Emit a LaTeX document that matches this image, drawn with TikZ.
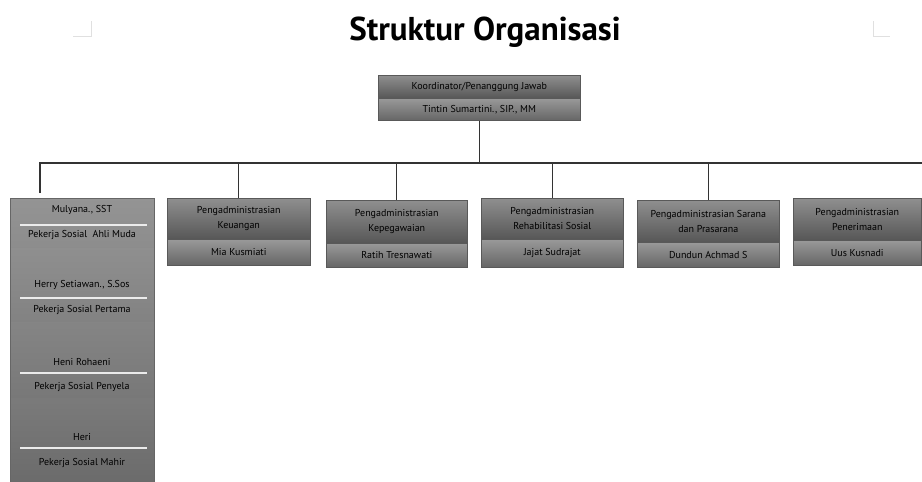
\documentclass[tikz,border=0pt]{standalone}
\usepackage{fontspec}
\setmainfont{PT Sans}
\begin{document}
\begin{tikzpicture}[x=1pt,y=-1pt,
  txt/.style={font=\fontsize{10}{12}\selectfont, text=black, align=center, inner sep=0pt},
  hdrcell/.style={draw=black!65, line width=0.6pt, top color=black!44, bottom color=black!66, anchor=north west, inner sep=0pt, txt},
  namecell/.style={draw=black!65, line width=0.6pt, top color=black!40, bottom color=black!60, anchor=north west, inner sep=0pt, txt},
  band/.style 2 args={top color=#1, bottom color=#2, draw=none, anchor=north west, inner sep=0pt},
  conn/.style={draw=black!80, line width=1.2pt},
  sep/.style={draw=white!92!black, line width=1.8pt},
  cornermark/.style={draw=black!12, line width=1pt}
]
\useasboundingbox (0,0) rectangle (922,482);
% corner marks
\coordinate (m1a) at (73,36); \coordinate (m1b) at (91,36); \coordinate (m1c) at (91,21);
\coordinate (m2a) at (890,36); \coordinate (m2b) at (873,36); \coordinate (m2c) at (873,21);
\draw[cornermark] (m1a) -- (m1b) -- (m1c);
\draw[cornermark] (m2a) -- (m2b) -- (m2c);
% title
\node[font=\bfseries\fontsize{33}{36}\selectfont, inner sep=0pt] (title) at (485,32) {Struktur Organisasi};
% top box
\node[hdrcell, minimum width=202, minimum height=23] (topA) at (378,75) {Koordinator/Penanggung Jawab};
\node[namecell, minimum width=202, minimum height=22] (topB) at (378,98) {Tintin Sumartini., SIP., MM};
% bus
\coordinate (busL) at (40,163);
\coordinate (busR) at (922,163);
\coordinate (leftEnd) at (40,193);
\draw[conn] (topB.south) -- (topB.south |- busL);
\draw[conn] (leftEnd) -- (busL) -- (busR);
% boxes
\node[hdrcell, minimum width=143, minimum height=41] (k1a) at (167,198) {Pengadministrasian\\[3pt]Keuangan};
\node[namecell, minimum width=143, minimum height=26] (k1b) at (167,239) {Mia Kusmiati};
\node[hdrcell, minimum width=141, minimum height=43] (k2a) at (326,200) {Pengadministrasian\\[3pt]Kepegawaian};
\node[namecell, minimum width=141, minimum height=24] (k2b) at (326,243) {Ratih Tresnawati};
\node[hdrcell, minimum width=142, minimum height=41] (k3a) at (481,198) {Pengadministrasian\\[3pt]Rehabilitasi Sosial};
\node[namecell, minimum width=142, minimum height=28] (k3b) at (481,239) {Jajat Sudrajat};
\node[hdrcell, minimum width=142, minimum height=42] (k4a) at (637,200) {Pengadministrasian Sarana\\[3pt]dan Prasarana};
\node[namecell, minimum width=142, minimum height=25] (k4b) at (637,242) {Dundun Achmad S};
\node[hdrcell, minimum width=128, minimum height=42] (k5a) at (793,198) {Pengadministrasian\\[3pt]Penerimaan};
\node[namecell, minimum width=128, minimum height=25] (k5b) at (793,240) {Uus Kusnadi};
\draw[conn] (k1a.north |- busL) -- (k1a.north);
\draw[conn] (k2a.north |- busL) -- (k2a.north);
\draw[conn] (k3a.north |- busL) -- (k3a.north);
\draw[conn] (k4a.north |- busL) -- (k4a.north);
% left column
\node[band={black!42}{black!45}, minimum width=144, minimum height=50] (b1) at (10,198) {};
\node[band={black!44}{black!49}, minimum width=144, minimum height=74] (b2) at (10,248) {};
\node[band={black!48}{black!53}, minimum width=144, minimum height=76] (b3) at (10,322) {};
\node[band={black!52}{black!58}, minimum width=144, minimum height=84] (b4) at (10,398) {};
\draw[draw=black!60, line width=0.6pt] (b1.north west) rectangle (b4.south east);
\coordinate (s1a) at (20,225); \coordinate (s1b) at (147,225);
\coordinate (s2a) at (20,298); \coordinate (s2b) at (147,298);
\coordinate (s3a) at (20,373); \coordinate (s3b) at (147,373);
\coordinate (s4a) at (20,448); \coordinate (s4b) at (147,448);
\draw[sep] (s1a) -- (s1b);
\draw[sep] (s2a) -- (s2b);
\draw[sep] (s3a) -- (s3b);
\draw[sep] (s4a) -- (s4b);
\node[txt] (n1) at (82,210) {Mulyana., SST};
\node[txt] (t1) at (82,235) {Pekerja Sosial~ Ahli Muda};
\node[txt] (n2) at (82,285) {Herry Setiawan., S.Sos};
\node[txt] (t2) at (82,310) {Pekerja Sosial Pertama};
\node[txt] (n3) at (82,362) {Heni Rohaeni};
\node[txt] (t3) at (82,387) {Pekerja Sosial Penyela};
\node[txt] (n4) at (82,437) {Heri};
\node[txt] (t4) at (82,463) {Pekerja Sosial Mahir};
\end{tikzpicture}
\end{document}
